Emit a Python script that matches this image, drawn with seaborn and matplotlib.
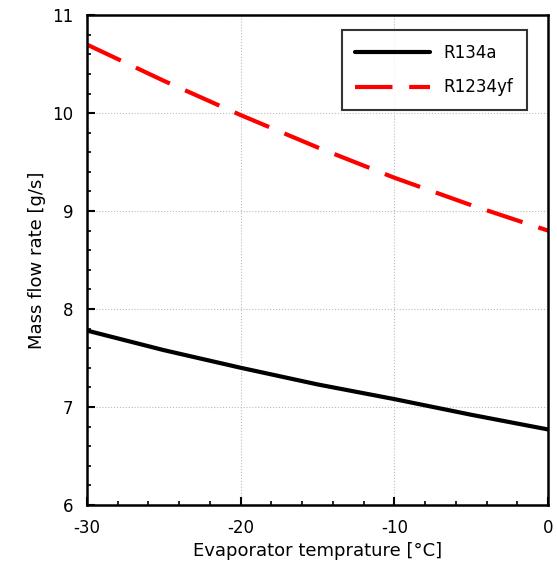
import numpy as np
import pandas as pd
import seaborn as sns
import matplotlib.pyplot as plt
from matplotlib.ticker import MultipleLocator

temps = [-30, -25, -20, -15, -10, -5, 0]
r134a = [7.78, 7.58, 7.40, 7.23, 7.08, 6.92, 6.77]
r1234yf = [10.70, 10.33, 9.98, 9.65, 9.34, 9.06, 8.80]

df = pd.DataFrame({
    'temp': temps * 2,
    'flow': r134a + r1234yf,
    'fluid': ['R134a'] * len(temps) + ['R1234yf'] * len(temps),
})

sns.set_style('white')
plt.rcParams['text.color'] = 'black'
plt.rcParams['axes.labelcolor'] = 'black'
plt.rcParams['xtick.color'] = 'black'
plt.rcParams['ytick.color'] = 'black'
plt.rcParams['axes.unicode_minus'] = False

fig, ax = plt.subplots(figsize=(5.57, 5.83), dpi=100)
fig.subplots_adjust(left=0.156, right=0.984, top=0.974, bottom=0.134)

sns.lineplot(data=df, x='temp', y='flow', hue='fluid', style='fluid',
             palette={'R134a': 'black', 'R1234yf': 'red'},
             dashes={'R134a': '', 'R1234yf': (9, 4)},
             linewidth=3, ax=ax)

ax.set_xlim(-30, 0)
ax.set_ylim(6, 11)
ax.set_xticks([-30, -20, -10, 0])
ax.set_yticks([6, 7, 8, 9, 10, 11])
ax.xaxis.set_minor_locator(MultipleLocator(2))
ax.yaxis.set_minor_locator(MultipleLocator(0.2))
ax.tick_params(which='both', direction='in', bottom=True, left=True, top=False, right=False)
ax.tick_params(which='major', length=6, width=1.5, labelsize=12, pad=10)
ax.tick_params(which='minor', length=3, width=1.2)
ax.grid(True, which='major', color='#bbbbbb', linestyle=':', linewidth=0.8)
for s in ax.spines.values():
    s.set_color('black')
    s.set_linewidth(1.8)

ax.set_xlabel('Evaporator temprature [°C]', fontsize=13)
ax.set_ylabel('Mass flow rate [g/s]', fontsize=13)

leg = ax.legend(loc='upper right', fontsize=12, frameon=True, fancybox=False,
                handlelength=4.5, borderpad=0.8, labelspacing=1.0,
                borderaxespad=0, bbox_to_anchor=(0.954, 0.969))
leg.get_frame().set_edgecolor('black')
leg.get_frame().set_linewidth(1.5)
leg.set_title(None)

fig.savefig('out.png', dpi=100)
